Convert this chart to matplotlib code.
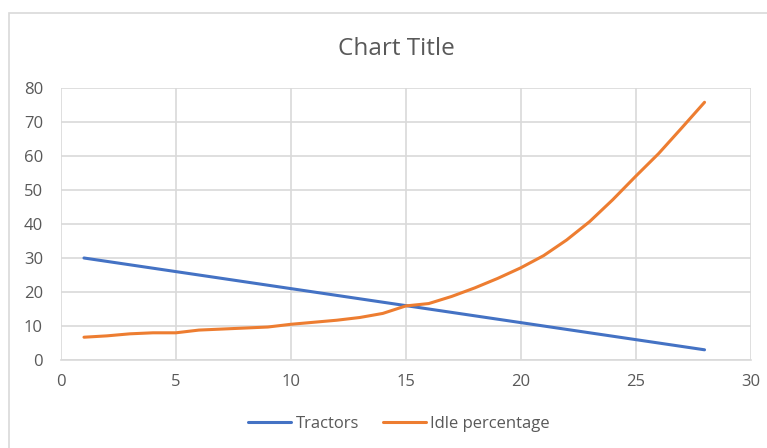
import matplotlib
matplotlib.use("Agg")
import matplotlib.pyplot as plt
from matplotlib.patches import Rectangle

# series values
x_vals = list(range(1, 29))
tractors = [30, 29, 28, 27, 26, 25, 24, 23, 22, 21, 20, 19, 18, 17,
            16, 15, 14, 13, 12, 11, 10, 9, 8, 7, 6, 5, 4, 3]
idle_pct = [6.7, 7.1, 7.7, 8.0, 8.0, 8.8, 9.1, 9.4, 9.7, 10.5, 11.1, 11.7, 12.5, 13.7,
            15.9, 16.6, 18.7, 21.2, 24.0, 27.1, 30.7, 35.3, 40.7, 47.1, 54.0, 60.7, 68.2, 75.8]

x_ticks = [0, 5, 10, 15, 20, 25, 30]
y_ticks = [0, 10, 20, 30, 40, 50, 60, 70, 80]

plt.rcParams['font.family'] = ['Open Sans', 'DejaVu Sans']
text_col = '#595959'
grid_col = '#d9d9d9'

fig = plt.figure(figsize=(7.67, 4.48), dpi=100)
ax = fig.add_axes([61 / 767, 1 - 360 / 448, (750.5 - 61) / 767, (360 - 88) / 448])

# chart area border, running off the right and bottom edges
fig.patches.append(Rectangle((9 / 767, -0.2), 1.2, 0.2 + (448 - 13) / 448,
                             transform=fig.transFigure, fill=False,
                             edgecolor=grid_col, linewidth=1.2))

ax.plot(x_vals, tractors, color='#4472C4', linewidth=2.2, label='Tractors',
        solid_capstyle='round')
ax.plot(x_vals, idle_pct, color='#ED7D31', linewidth=2.2, label='Idle percentage',
        solid_capstyle='round')

ax.set_xlim(0, 30)
ax.set_ylim(0, 80)
ax.set_xticks(x_ticks)
ax.set_yticks(y_ticks)
ax.grid(True, color=grid_col, linewidth=1.2)
ax.set_axisbelow(True)
for side in ['left', 'right', 'top']:
    ax.spines[side].set_visible(False)
ax.spines['bottom'].set_color(grid_col)
ax.spines['bottom'].set_linewidth(1.2)
ax.tick_params(length=0, labelsize=12, labelcolor=text_col)
ax.tick_params(axis='y', pad=13)
ax.tick_params(axis='x', pad=10)

fig.text(396 / 767, 1 - 49 / 448, 'Chart Title', ha='center', va='center',
         fontsize=17.5, color=text_col)

fig.legend(loc='center', bbox_to_anchor=(399 / 767, 1 - 424 / 448), ncol=2,
           frameon=False, fontsize=12, labelcolor=text_col, handlelength=2.6,
           handletextpad=0.25, columnspacing=1.45)

fig.savefig('out.png', dpi=100)
